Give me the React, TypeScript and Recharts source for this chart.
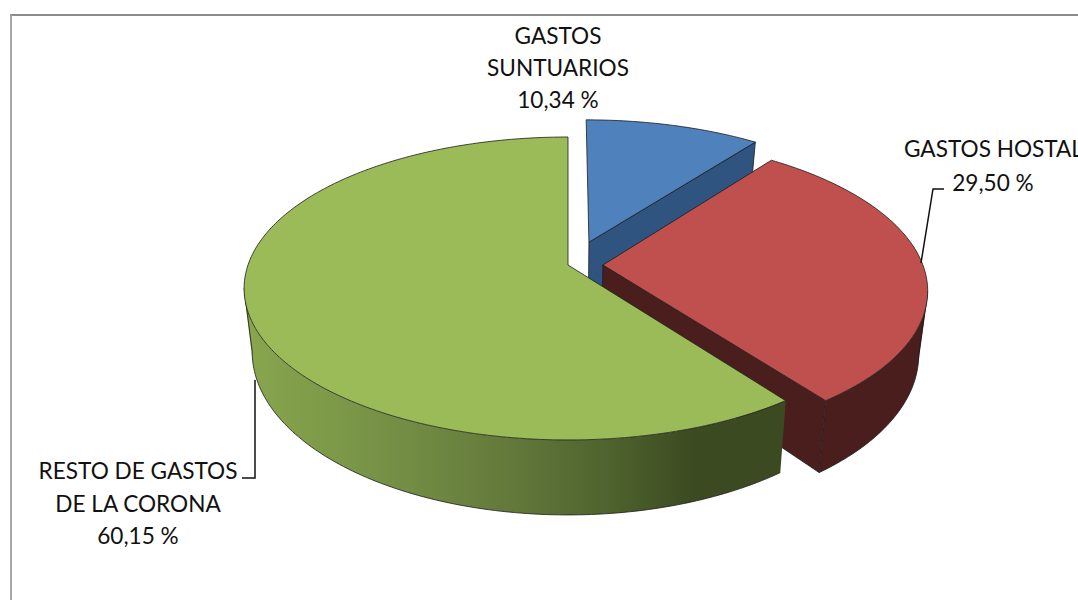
import { Pie, PieChart } from "recharts";

const names = ["GASTOS SUNTUARIOS", "GASTOS HOSTAL", "RESTO DE GASTOS DE LA CORONA"];
const values = [10.34, 29.5, 60.15];
const topColors = ["#4f81bd", "#bf504d", "#9bbb59"];
const labelLines = [
  ["GASTOS", "SUNTUARIOS", "10,34 %"],
  ["GASTOS HOSTAL", "29,50 %"],
  ["RESTO DE GASTOS", "DE LA CORONA", "60,15 %"],
];

// Slice explosion, in pie radii on the ground plane
const explodeX = [0.067, 0.109, 0];
const explodeY = [0.158, 0, 0];

// Side wall shading
const wallColors = ["#2f5480", "#4b1e1e", "#3a4a20"];
const greenWallStops = [
  { offset: 0, color: "#87a64d" },
  { offset: 0.33, color: "#748f45" },
  { offset: 0.6, color: "#62773a" },
  { offset: 0.8, color: "#4f642e" },
  { offset: 1, color: "#3b4a21" },
];

// Fake 3D camera
const PERSPECTIVE = 0.155;
const TILT = 0.462;
const DEPTH_SCALE_X = 0.975;
const DEPTH_SCALE_Y = 1.077;
const DEPTH = 61.5;
const EDGE = "#1c1c1c";

const tableData = names.map((name, i) => ({ name, value: values[i], fill: topColors[i] }));

type Pt = [number, number];

const fmt = (p: Pt) => `${p[0].toFixed(2)},${p[1].toFixed(2)}`;
const closed = (pts: Pt[]) => "M" + pts.map(fmt).join("L") + "Z";
const open = (pts: Pt[]) => "M" + pts.map(fmt).join("L");

// keep every quad the same way round, so overlaps at the fold do not cancel out
const orient = (q: Pt[]) => {
  let area = 0;
  q.forEach((p, n) => {
    const r = q[(n + 1) % q.length];
    area += p[0] * r[1] - r[0] * p[1];
  });
  return area < 0 ? [...q].reverse() : q;
};

function Slice3D(props: any) {
  const { cx, cy, outerRadius, startAngle, endAngle, fill, name } = props;
  const i = names.indexOf(name);

  const project = (u: number, v: number, bottom: boolean): Pt => {
    const uu = u + explodeX[i];
    const vv = v + explodeY[i];
    const w = 1 + PERSPECTIVE * vv;
    const x = cx + (outerRadius * uu) / w;
    const y = cy - (outerRadius * TILT * vv) / w;
    if (!bottom) return [x, y];
    return [cx + (x - cx) * DEPTH_SCALE_X, cy + (y - cy) * DEPTH_SCALE_Y + DEPTH];
  };

  // recharts angles run from 3 o'clock, counter clockwise
  const from = 90 - startAngle;
  const to = 90 - endAngle;
  const steps = Math.ceil(to - from);
  const topArc: Pt[] = [];
  let frontTop: Pt[] = [];
  let frontBottom: Pt[] = [];
  for (let s = 0; s <= steps; s++) {
    const t = ((from + ((to - from) * s) / steps) * Math.PI) / 180;
    const u = Math.sin(t);
    const v = Math.cos(t);
    topArc.push(project(u, v, false));
    // only the part of the rim that faces the camera gets a wall
    if (v < 0.05) {
      frontTop.push(project(u, v, false));
      frontBottom.push(project(u, v, true));
    }
  }

  // the wall stops at the far left or right of the rim, where it folds away
  let fold: string | null = null;
  if (frontTop.length) {
    let best = 0;
    frontTop.forEach((p, n) => {
      if (Math.abs(p[0] - cx) > Math.abs(frontTop[best][0] - cx)) best = n;
    });
    fold = open([frontTop[best], frontBottom[best]]);
    if (best < frontTop.length / 2) {
      frontTop = frontTop.slice(best);
      frontBottom = frontBottom.slice(best);
    } else {
      frontTop = frontTop.slice(0, best + 1);
      frontBottom = frontBottom.slice(0, best + 1);
    }
  }

  const quads: string[] = [];
  for (let s = 0; s + 1 < frontTop.length; s++) {
    quads.push(closed(orient([frontTop[s], frontTop[s + 1], frontBottom[s + 1], frontBottom[s]])));
  }

  const centerTop = project(0, 0, false);
  const centerBottom = project(0, 0, true);
  const endTheta = (to * Math.PI) / 180;
  const endTop = project(Math.sin(endTheta), Math.cos(endTheta), false);
  const endBottom = project(Math.sin(endTheta), Math.cos(endTheta), true);
  const endFaceShows = Math.sin(endTheta) > 0.01;
  const gradId = `wall-${i}`;

  return (
    <g>
      {i === 2 && (
        <defs>
          <linearGradient id={gradId} gradientUnits="userSpaceOnUse" x1={250} y1={0} x2={695} y2={0}>
            {greenWallStops.map((s) => (
              <stop key={s.offset} offset={s.offset} stopColor={s.color} />
            ))}
          </linearGradient>
        </defs>
      )}
      {quads.length > 0 && (
        <path d={quads.join("")} fill={i === 2 ? `url(#${gradId})` : wallColors[i]} stroke="none" />
      )}
      {frontBottom.length > 0 && <path d={open(frontBottom)} fill="none" stroke={EDGE} strokeWidth={0.8} />}
      {fold && <path d={fold} fill="none" stroke={EDGE} strokeWidth={0.8} />}
      {endFaceShows && (
        <path
          d={closed([centerTop, endTop, endBottom, centerBottom])}
          fill={wallColors[i]}
          stroke={EDGE}
          strokeWidth={0.8}
        />
      )}
      <path d={closed([centerTop, ...topArc])} fill={fill} stroke={EDGE} strokeWidth={0.8} />
    </g>
  );
}

function SliceLabel(props: any) {
  const i = names.indexOf(props.name);
  const lines = labelLines[i];
  const textStyle = { fontFamily: "Lato, Carlito, sans-serif", fontSize: 22.6, fill: "#111" };
  if (i === 0) {
    return (
      <g>
        {lines.map((t, n) => (
          <text key={t} x={558} y={44 + n * 32} textAnchor="middle" {...textStyle}>
            {t}
          </text>
        ))}
      </g>
    );
  }
  if (i === 1) {
    return (
      <g>
        <polyline points="921,263 933,189 944,189" fill="none" stroke="#111" strokeWidth={1.5} />
        <text x={904} y={157} {...textStyle}>
          {lines[0]}
        </text>
        <text x={993} y={191} textAnchor="middle" {...textStyle}>
          {lines[1]}
        </text>
      </g>
    );
  }
  return (
    <g>
      <polyline points="255,380 255,478 242,478" fill="none" stroke="#111" strokeWidth={1.5} />
      {lines.map((t, n) => (
        <text key={t} x={138} y={479 + n * 32.5} textAnchor="middle" {...textStyle}>
          {t}
        </text>
      ))}
    </g>
  );
}

export default function App() {
  return (
    <div
      style={{
        position: "fixed",
        left: 0,
        top: 0,
        width: 1078,
        height: 600,
        overflow: "hidden",
        background: "#fff",
      }}
    >
      <div
        style={{
          position: "absolute",
          left: 10,
          top: 14,
          width: 1200,
          height: 800,
          borderLeft: "2px solid #a6a6a6",
          borderTop: "2px solid #8c8c8c",
        }}
      />
      <div style={{ position: "absolute", left: 0, top: 0 }}>
        <PieChart width={1078} height={600} margin={{ top: 0, right: 0, bottom: 0, left: 0 }}>
          <Pie
            data={tableData}
            dataKey="value"
            nameKey="name"
            cx={568}
            cy={265}
            innerRadius={0}
            outerRadius={320}
            startAngle={90}
            endAngle={-270}
            stroke="none"
            shape={Slice3D}
            label={SliceLabel}
            labelLine={false}
            isAnimationActive={false}
          />
        </PieChart>
      </div>
    </div>
  );
}
